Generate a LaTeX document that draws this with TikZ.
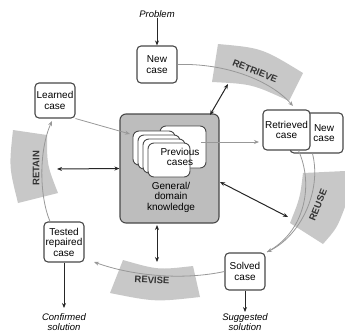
\documentclass[tikz,border=0pt]{standalone}
\usepackage{fontspec}
\setmainfont{Liberation Sans}
\usetikzlibrary{arrows.meta}
\definecolor{bandgray}{HTML}{C8C8C8}
\definecolor{kbgray}{HTML}{BDBDBD}
\definecolor{edgegray}{HTML}{484848}
\definecolor{flowgray}{HTML}{989898}
\tikzset{
  casebox/.style={draw=edgegray, line width=1.1pt, fill=white, rounded corners=4pt,
    inner sep=0pt, align=center, font=\fontsize{10}{10.5}\selectfont},
  card/.style={draw=edgegray, line width=0.9pt, fill=white, rounded corners=6pt,
    minimum width=42pt, minimum height=34pt, inner sep=0pt},
  bandshape/.style={fill=bandgray, draw=none},
  bandtext/.style={font=\fontsize{9.5}{10}\selectfont\bfseries, text=black!80, inner sep=0pt},
  flowline/.style={draw=flowgray, line width=0.8pt, -{Stealth[length=5pt,width=4pt]}},
  flowplain/.style={draw=flowgray, line width=0.8pt},
  link/.style={draw=black!85, line width=1pt, {Stealth[length=5pt,width=4pt]}-{Stealth[length=5pt,width=4pt]}},
  outarrow/.style={draw=black!85, line width=1pt, -{Stealth[length=5pt,width=4pt]}},
  labeltext/.style={font=\fontsize{9.5}{10}\selectfont\itshape, inner sep=0pt, align=center},
  plaintext/.style={inner sep=0pt, align=center, font=\fontsize{10}{10.5}\selectfont},
}
\begin{document}
\begin{tikzpicture}[x=1pt,y=-1pt]
\useasboundingbox (0,0) rectangle (345,330);
% ---------- bands ----------
\fill[bandshape] (218,44) .. controls (262,48) .. (303,73) -- (289,101) .. controls (252,84) .. (212,82) -- cycle;
\fill[bandshape] (303,173) -- (345,171) -- (345,207) .. controls (337,228) .. (323,244) -- (290,223) .. controls (300,198) .. (303,173) -- cycle;
\fill[bandshape] (13,130) -- (47,135) .. controls (47,165) .. (58,193) -- (18,203) .. controls (9,167) .. (13,130) -- cycle;
\fill[bandshape] (123,260) .. controls (158,270) .. (193,266) -- (200,297) .. controls (155,302) .. (110,293) -- cycle;
\node[bandtext, rotate=-22] (tretrieve) at (255,71) {RETRIEVE};
\node[bandtext, rotate=68] (treuse) at (318,205) {REUSE};
\node[bandtext, rotate=90] (tretain) at (36,168) {RETAIN};
\node[bandtext, rotate=-3] (trevise) at (152,280) {REVISE};
% ---------- knowledge box ----------
\node[draw=edgegray, line width=1.1pt, fill=kbgray, rounded corners=6pt,
      minimum width=99pt, minimum height=109pt, inner sep=0pt] (kb) at (169.5,168.5) {};
\node[card, minimum width=46pt, minimum height=42pt] (c4) at (183,147) {};
\node[card] (c0) at (154,148) {};
\node[card] (c1) at (159,152) {};
\node[card] (c2) at (164,156) {};
\node[card] (c3) at (169,160) {};
\node[plaintext] (prevtext) at (180,157) {Previous\\cases};
\node[plaintext] (kbtext) at (171,197) {General/\\domain\\knowledge};
% ---------- case boxes ----------
\node[casebox, minimum width=40pt, minimum height=37pt] (newcase) at (157,64.5) {New\\case};
\node[casebox, minimum width=40pt, minimum height=35pt] (learned) at (55,100.5) {Learned\\case};
\node[casebox, minimum width=40pt, minimum height=40pt] (tested) at (64,242) {Tested\\repaired\\case};
\node[casebox, minimum width=40pt, minimum height=37pt] (solved) at (245,271.5) {Solved\\case};
\node[casebox, minimum width=53pt, minimum height=40pt] (newc2) at (316.5,133) {};
\node[plaintext] (newc2text) at (324,133) {New\\case};
\node[casebox, minimum width=47pt, minimum height=40pt] (retr) at (286.5,130) {Retrieved\\case};
% ---------- free labels ----------
\node[labeltext] (problem) at (157,14) {Problem};
\node[labeltext] (confirmed) at (64,322) {Confirmed\\solution};
\node[labeltext] (suggested) at (245,322) {Suggested\\solution};
% ---------- coordinates ----------
\coordinate (rt) at (293,106);
\coordinate (sv) at (267,252);
\coordinate (tt) at (94,262);
\coordinate (lt) at (52,121);
\coordinate (lp) at (130,134);
\coordinate (pa) at (201,142);
\coordinate (pb) at (259,142);
\coordinate (ra) at (57,169);
\coordinate (k1) at (210,115);
\coordinate (k2) at (228,84);
\coordinate (k3) at (220,182);
\coordinate (k4) at (288,217);
\coordinate (k5) at (157,225);
\coordinate (k6) at (157,262);
\coordinate (cf) at (64,308);
\coordinate (sg) at (245,312);
% ---------- cycle flow ----------
\draw[flowline] (newcase.east) .. controls (225,63) and (270,80) .. (rt);
\draw[flowplain] ([xshift=12pt]retr.south) .. controls (314,185) and (305,232) .. (sv);
\draw[flowline] ([xshift=-4pt]newc2.south) .. controls (322,192) and (300,236) .. (sv);
\draw[flowline] (solved.west) .. controls (180,281) and (130,275) .. (tt);
\draw[flowline] ([xshift=-14pt]tested.north) .. controls (39,195) and (39,150) .. (lt);
\draw[flowline] (learned.south east) -- (lp);
\draw[flowline] (pa) -- (pb);
% ---------- links to knowledge ----------
\draw[link] (ra) -- (kb.west);
\draw[link] (k1) -- (k2);
\draw[link] (k3) -- (k4);
\draw[link] (k5) -- (k6);
% ---------- in/out ----------
\draw[outarrow] (problem.south) -- (newcase.north);
\draw[outarrow] (tested.south) -- (cf);
\draw[outarrow] (solved.south) -- (sg);
\end{tikzpicture}
\end{document}
